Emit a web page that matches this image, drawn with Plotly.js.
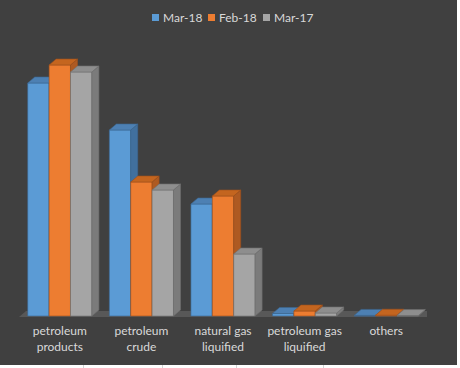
<!DOCTYPE html>
<html>
<head>
<meta charset="utf-8">
<script src="https://cdn.plot.ly/plotly-3.0.1.min.js"></script>
<style>
  html, body { margin: 0; padding: 0; background: #ffffff; }
  #wrap { position: relative; width: 460px; height: 368px; overflow: hidden; }
  #chart { position: absolute; left: 0; top: 0; width: 457px; height: 365px; }
  .vl { position: absolute; top: 365px; width: 1px; height: 3px; background: #d4d4d4; }
</style>
</head>
<body>
<div id="wrap">
  <div id="chart"></div>
  <div class="vl" style="left:83px"></div>
  <div class="vl" style="left:162px"></div>
  <div class="vl" style="left:236px"></div>
  <div class="vl" style="left:323px"></div>
</div>
<script>
// ---- data ----
const categories = ['petroleum<br>products', 'petroleum<br>crude', 'natural gas<br>liquified', 'petroleum gas<br>liquified', 'others'];
const seriesNames = ['Mar-18', 'Feb-18', 'Mar-17'];
const mar18 = [233, 186, 112, 2.5, 0.6];
const feb18 = [251, 134, 120, 5, 0.8];
const mar17 = [244, 126, 62, 3, 0.4];

// ---- styling ----
const frontColors = ['#5b9bd5', '#ed7d31', '#a5a5a5'];
const sideColors  = ['#41709e', '#ae5a22', '#7b7b7b'];
const topColors   = ['#4d80b3', '#c4651f', '#8e8e8e'];
const edgeColors  = ['#3a6690', '#9c4f1b', '#6e6e6e'];

const W = 457, H = 365;
const M = {l: 19, r: 30, t: 20, b: 43};
const PW = W - M.l - M.r, PH = H - M.t - M.b;
const barW = 0.262;          // width of each bar in category units
const dx = 0.086;            // depth offset in category units
const dy = 6;                // depth offset in value units
const yRange = [-6, PH - 6];

const allSeries = [mar18, feb18, mar17];
const traces = [];

// floor
const n = categories.length;
traces.push({
  type: 'scatter', mode: 'lines', fill: 'toself',
  x: [-0.5, n - 0.5, n - 0.5 + dx, -0.5 + dx, -0.5],
  y: [-1, -1, -1 + dy, -1 + dy, -1],
  fillcolor: '#585858', line: {width: 0}, hoverinfo: 'skip', showlegend: false
});

allSeries.forEach((vals, s) => {
  const off = (s - 1) * barW;
  const fx = [], fy = [], sx = [], sy = [], tx = [], ty = [];
  vals.forEach((h, k) => {
    const x0 = k + off - barW / 2, x1 = k + off + barW / 2;
    fx.push(x0, x1, x1, x0, x0, null); fy.push(0, 0, h, h, 0, null);
    sx.push(x1, x1 + dx, x1 + dx, x1, x1, null); sy.push(0, dy, h + dy, h, 0, null);
    tx.push(x0, x1, x1 + dx, x0 + dx, x0, null); ty.push(h, h, h + dy, h + dy, h, null);
  });
  const base = {type: 'scatter', mode: 'lines', fill: 'toself', hoverinfo: 'skip', showlegend: false,
                line: {width: 0.6, color: edgeColors[s]}};
  traces.push(Object.assign({}, base, {name: seriesNames[s], x: fx, y: fy, fillcolor: frontColors[s]}));
  traces.push(Object.assign({}, base, {x: sx, y: sy, fillcolor: sideColors[s]}));
  traces.push(Object.assign({}, base, {x: tx, y: ty, fillcolor: topColors[s]}));
});

// custom legend (layout decoration)
const px2x = p => (p - M.l) / PW;
const py2y = p => (M.t + PH - p) / PH;
const legendSquares = [152, 208, 263];
const legendTexts = [161, 217, 272];
const shapes = [], annotations = [];
seriesNames.forEach((name, s) => {
  shapes.push({type: 'rect', xref: 'paper', yref: 'paper',
    x0: px2x(legendSquares[s]), x1: px2x(legendSquares[s] + 7),
    y0: py2y(21), y1: py2y(14), fillcolor: frontColors[s], line: {width: 0}});
  annotations.push({xref: 'paper', yref: 'paper', x: px2x(legendTexts[s]), y: py2y(17.5),
    xanchor: 'left', yanchor: 'middle', text: name, showarrow: false,
    font: {family: 'Lato, "Open Sans", sans-serif', size: 12, color: '#d9d9d9'}});
});

const layout = {
  width: W, height: H,
  margin: M,
  paper_bgcolor: '#404040', plot_bgcolor: '#404040',
  showlegend: false,
  font: {family: 'Lato, "Open Sans", sans-serif', size: 12, color: '#d9d9d9'},
  xaxis: {range: [-0.5, n - 0.5], tickvals: categories.map((c, i) => i), ticktext: categories,
          showgrid: false, zeroline: false, showline: false, ticks: '', fixedrange: true,
          tickfont: {size: 12, color: '#d9d9d9'}},
  yaxis: {range: yRange, visible: false, showgrid: false, zeroline: false, fixedrange: true},
  shapes: shapes,
  annotations: annotations
};

Plotly.newPlot('chart', traces, layout, {displayModeBar: false, staticPlot: true});
</script>
</body>
</html>
